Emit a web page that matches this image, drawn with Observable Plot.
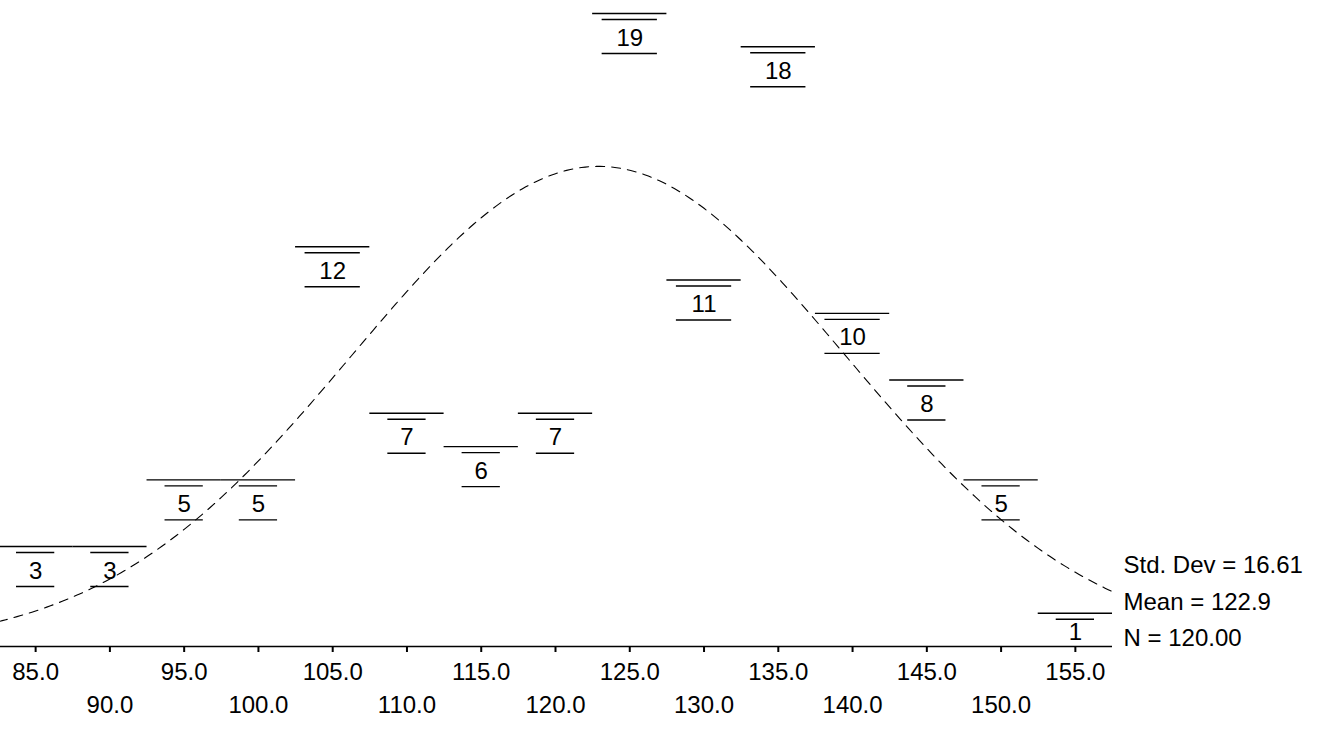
<!DOCTYPE html>
<html><head><meta charset="utf-8">
<script src="https://cdn.jsdelivr.net/npm/d3@7"></script>
<script src="https://cdn.jsdelivr.net/npm/@observablehq/plot@0.6"></script>
<style>html,body{margin:0;padding:0;background:#fff} svg{display:block}</style>
</head><body><div id="chart"></div>
<script>
// Histogram bins (bin centers, width 5) and counts
const binCenters = [85, 90, 95, 100, 105, 110, 115, 120, 125, 130, 135, 140, 145, 150, 155];
const counts     = [3, 3, 5, 5, 12, 7, 6, 7, 19, 11, 18, 10, 8, 5, 1];
const binWidth = 5;
// Axis tick labels (two staggered rows)
const upperTicks = [85, 95, 105, 115, 125, 135, 145, 155];
const lowerTicks = [90, 100, 110, 120, 130, 140, 150];
// Summary statistics printed on the chart
const statLabels = ["Std. Dev = 16.61", "Mean = 122.9", "N = 120.00"];
const stdDev = 16.61, mean = 122.9, nCases = 120;

const bins = binCenters.map((c, i) => ({mid: c, lo: c - binWidth / 2, hi: c + binWidth / 2, count: counts[i]}));
const tall = bins.filter(d => d.count > 1);
const short = bins.filter(d => d.count <= 1);
const oneDigit = bins.filter(d => d.count < 10);
const oneDigitTall = tall.filter(d => d.count < 10);
const twoDigit = bins.filter(d => d.count >= 10);

// Fitted normal curve from the printed mean / SD (scaled to counts per bin)
const xMin = binCenters[0] - binWidth / 2, xMax = binCenters[binCenters.length - 1] + binWidth / 2;
const curve = d3.range(xMin, xMax + 0.001, 0.25).map(x => ({
  x,
  y: nCases * binWidth / (stdDev * Math.sqrt(2 * Math.PI)) * Math.exp(-0.5 * ((x - mean) / stdDev) ** 2)
}));

const fmt = d => d.toFixed(1);
const lineStyle = {stroke: "#000", strokeWidth: 1.4};

const chart = Plot.plot({
  width: 1329,
  height: 729,
  marginLeft: -2,
  marginRight: 217,
  marginTop: 13,
  marginBottom: 83,
  x: {domain: [xMin, xMax], axis: null},
  y: {domain: [0, 19], axis: null},
  style: {fontFamily: "'Liberation Sans', Arial, sans-serif", fontSize: "24px", background: "#fff", color: "#000", overflow: "visible"},
  marks: [
    Plot.rectY(bins, {x1: "lo", x2: "hi", y: "count", fill: "#fff"}),
    Plot.line(curve, {x: "x", y: "y", stroke: "#000", strokeWidth: 1.1, strokeDasharray: "9,7"}),
    // bar tops
    Plot.ruleY(bins, {y: "count", x1: "lo", x2: "hi", ...lineStyle}),
    // label boxes
    Plot.ruleY(oneDigit, {y: "count", x1: "lo", x2: "hi", inset: 18, dy: 6, ...lineStyle}),
    Plot.ruleY(oneDigitTall, {y: "count", x1: "lo", x2: "hi", inset: 18, dy: 40, ...lineStyle}),
    Plot.ruleY(twoDigit, {y: "count", x1: "lo", x2: "hi", inset: 9.5, dy: 6, ...lineStyle}),
    Plot.ruleY(twoDigit, {y: "count", x1: "lo", x2: "hi", inset: 9.5, dy: 40, ...lineStyle}),
    Plot.text(tall, {x: "mid", y: "count", text: d => String(d.count), lineAnchor: "top", dy: 15, fontSize: 24, fill: "#000"}),
    Plot.text(short, {x: "mid", y: "count", text: d => String(d.count), lineAnchor: "top", dy: 10, fontSize: 24, fill: "#000"}),
    // baseline and axis
    Plot.ruleY([0], {stroke: "#000", strokeWidth: 1.3}),
    Plot.axisX({ticks: upperTicks, tickSize: 6, tickPadding: 10, tickFormat: fmt, fontSize: 24, strokeWidth: 2}),
    Plot.axisX({ticks: lowerTicks, tickSize: 6, tickPadding: 43, tickFormat: fmt, fontSize: 24, strokeWidth: 2}),
    // summary statistics
    Plot.text([statLabels.join("\n")], {
      frameAnchor: "bottom-right", textAnchor: "start", lineAnchor: "top",
      dx: 11, dy: -99, lineHeight: 1.52, fontSize: 24, fill: "#000"
    })
  ]
});
document.getElementById("chart").append(chart);
</script>
</body></html>
